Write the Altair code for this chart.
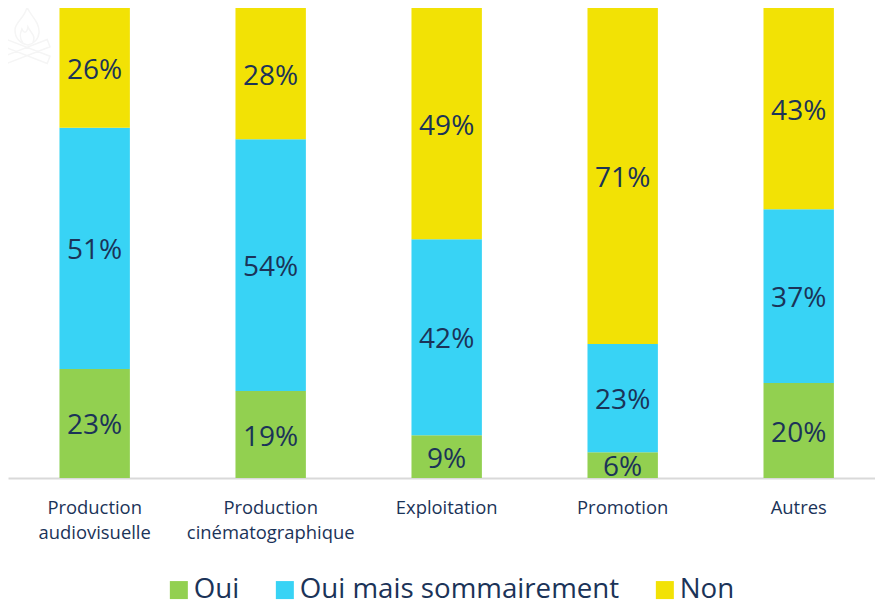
import altair as alt
import pandas as pd

categories = ["Production audiovisuelle", "Production cinématographique", "Exploitation", "Promotion", "Autres"]
oui = [23.2, 18.5, 9.1, 5.5, 20.2]
sommaire = [51.3, 53.6, 41.7, 23.0, 37.0]
non = [25.5, 27.9, 49.2, 71.5, 42.8]
oui_labels = ["23%", "19%", "9%", "6%", "20%"]
sommaire_labels = ["51%", "54%", "42%", "23%", "37%"]
non_labels = ["26%", "28%", "49%", "71%", "43%"]
series = ["Oui", "Oui mais sommairement", "Non"]
colors = ["#92D050", "#38D3F5", "#F2E205"]
INK = "#1B3358"
FONT = "Open Sans"

rows = []
for i, c in enumerate(categories):
    base = 0
    for s, vals, labs in zip(series, [oui, sommaire, non], [oui_labels, sommaire_labels, non_labels]):
        v = vals[i]
        rows.append({"cat": c, "series": s, "v0": base, "v1": base + v, "mid": base + v / 2, "label": labs[i]})
        base += v
df = pd.DataFrame(rows)

label_expr = ("datum.value == 'Production audiovisuelle' ? ['Production','audiovisuelle'] : "
              "datum.value == 'Production cinématographique' ? ['Production','cinématographique'] : datum.value")

xscale = alt.Scale(domain=categories, paddingInner=0.6, paddingOuter=0.263, align=0.556)
yscale = alt.Scale(domain=[0, 100], nice=False)

x = alt.X("cat:N", sort=categories, title=None, scale=xscale,
          axis=alt.Axis(labelExpr=label_expr, labelAngle=0, labelFont=FONT, labelFontSize=18.4,
                        labelColor=INK, ticks=False, domainColor="#D9D9D9", domainWidth=2,
                        labelPadding=20, labelLimit=260, labelLineHeight=25))

bars = alt.Chart(df).mark_bar().encode(
    x=x,
    y=alt.Y("v0:Q", scale=yscale, axis=None),
    y2="v1:Q",
    color=alt.Color("series:N", sort=series,
                    scale=alt.Scale(domain=series, range=colors),
                    legend=alt.Legend(title=None, orient="none", direction="horizontal",
                                      legendX=157, legendY=568, symbolType="square", symbolSize=324,
                                      labelFont=FONT, labelFontSize=27.7, labelColor=INK,
                                      columnPadding=31, symbolStrokeWidth=0, labelLimit=400,
                                      labelOffset=1, symbolOpacity=1)))

text = alt.Chart(df).mark_text(font=FONT, fontSize=28, color=INK, dy=3).encode(
    x=alt.X("cat:N", sort=categories, scale=xscale),
    y=alt.Y("mid:Q", scale=yscale),
    text="label:N")

flame_path = ("M0,-.93 C.1,-.67 .43,-.43 .4,-.07 C.37,.17 .2,.3 .03,.33 C-.23,.3 -.4,.1 -.4,-.17 C-.4,-.43 -.07,-.57 0,-.93 Z "
              "M-.13,.27 C-.3,.05 -.2,-.1 -.17,-.2 C-.1,-.05 0,-.05 .03,-.27 C.13,-.05 .3,0 .2,.25 "
              "M-.673,.149 L.767,.709 L.673,.951 L-.767,.391 Z "
              "M.673,.149 L-.767,.709 L-.673,.951 L.767,.391 Z")
icon = alt.Chart(pd.DataFrame({"icon": ["feu"]})).mark_point(
    shape=flame_path, size=3600, filled=False, stroke="#F5F5F5", strokeWidth=1.5, opacity=1
).encode(x=alt.value(19), y=alt.value(27))

chart = (icon + bars + text).properties(
    width=867, height=470, autosize=alt.AutoSizeParams(type="none"),
    padding={"left": 0, "top": 0, "right": 0, "bottom": 123}
).configure_view(stroke=None)
chart.save("out.html", embed_options={"renderer": "svg", "actions": False})
